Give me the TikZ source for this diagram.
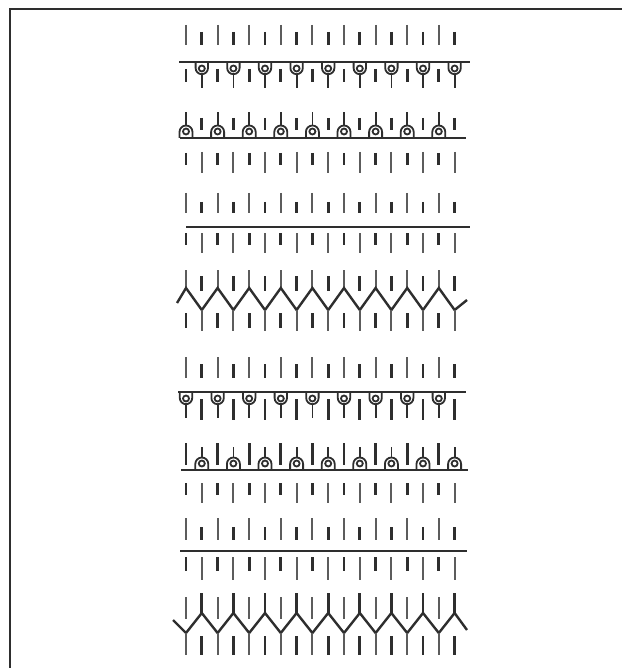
\documentclass[tikz,border=0pt]{standalone}
\definecolor{Ink}{HTML}{2E2E2E}
\definecolor{Lead}{HTML}{5C5C5C}
\newcommand{\stitchrow}[6]{%
  \foreach \i in {0,2,...,16}{\draw[#1]({186+15.8*\i},#2)--({186+15.8*\i},#3);}%
  \foreach \i in {1,3,...,17}{\draw[#4]({186+15.8*\i},#5)--({186+15.8*\i},#6);}}
\newcommand{\hangloop}[3]{%
  \draw[loopst]({#1-6.2},#2)--({#1-6.2},{#2+6}) arc[start angle=180,end angle=360,radius=6.2pt]--({#1+6.2},#2);%
  \draw[loopst]({#1},{#2+6.5}) circle[radius=3pt];%
  \draw[loopst]({#1},{#2+12.2})--({#1},#3);}
\newcommand{\standloop}[3]{%
  \draw[loopst]({#1-6.5},#2)--({#1-6.5},{#2-6}) arc[start angle=180,end angle=0,radius=6.5pt]--({#1+6.5},#2);%
  \draw[loopst]({#1},{#2-6.5}) circle[radius=3pt];%
  \draw[loopst]({#1},{#2-12.5})--({#1},#3);}
\begin{document}
\begin{tikzpicture}[x=1pt,y=-1pt,
  st/.style={Lead,line width=2.1pt},sb/.style={Ink,line width=2.8pt},
  rule/.style={Ink,line width=2.4pt},loopst/.style={Ink,line width=1.8pt},
  zig/.style={Ink,line width=2.4pt,line join=miter},frame/.style={Ink,line width=2pt}]
\useasboundingbox (0,0) rectangle (622,668);
\draw[frame](9.5,668)--(9.5,9.5)--(622,9.5);
\stitchrow{st}{25}{45}{sb}{32}{45}
\draw[rule](179,62)--(470,62);
\foreach \i in {1,3,...,17}{\hangloop{186+15.8*\i}{62}{88}}
\foreach \i in {0,2,...,16}{\draw[sb]({186+15.8*\i},69)--({186+15.8*\i},82);}
\foreach \i in {0,2,...,16}{\standloop{186+15.8*\i}{138}{112}}
\foreach \i in {1,3,...,17}{\draw[sb]({186+15.8*\i},118)--({186+15.8*\i},130);}
\draw[rule](180,138)--(466,138);
\stitchrow{sb}{153}{165}{st}{152}{173}
\stitchrow{st}{193}{213}{sb}{202}{213}
\draw[rule](186,227)--(470,227);
\stitchrow{sb}{233}{245}{st}{233}{253}
\stitchrow{st}{270}{288}{sb}{276}{291}
\draw[zig](177,303)\foreach \i in {0,2,...,16}{--({186+15.8*\i},288)--({186+15.8*(\i+1)},310)}--(467,300);
\stitchrow{sb}{313}{328}{st}{310}{331}
\stitchrow{st}{357}{378}{sb}{364}{378}
\draw[rule](178,392)--(466,392);
\foreach \i in {0,2,...,16}{\hangloop{186+15.8*\i}{392}{418}}
\foreach \i in {1,3,...,17}{\draw[sb]({186+15.8*\i},399)--({186+15.8*\i},420);}
\foreach \i in {1,3,...,17}{\standloop{186+15.8*\i}{470}{447}}
\foreach \i in {0,2,...,16}{\draw[sb]({186+15.8*\i},443)--({186+15.8*\i},465);}
\draw[rule](181,470)--(468,470);
\stitchrow{sb}{483}{495}{st}{483}{503}
\stitchrow{st}{518}{540}{sb}{527}{540}
\draw[rule](180,551)--(467,551);
\stitchrow{sb}{557}{571}{st}{557}{580}
\stitchrow{st}{597}{619}{sb}{593}{613}
\draw[zig](173,620)\foreach \i in {0,2,...,16}{--({186+15.8*\i},633)--({186+15.8*(\i+1)},613)}--(467,630);
\stitchrow{st}{633}{655}{sb}{636}{655}
\end{tikzpicture}
\end{document}
